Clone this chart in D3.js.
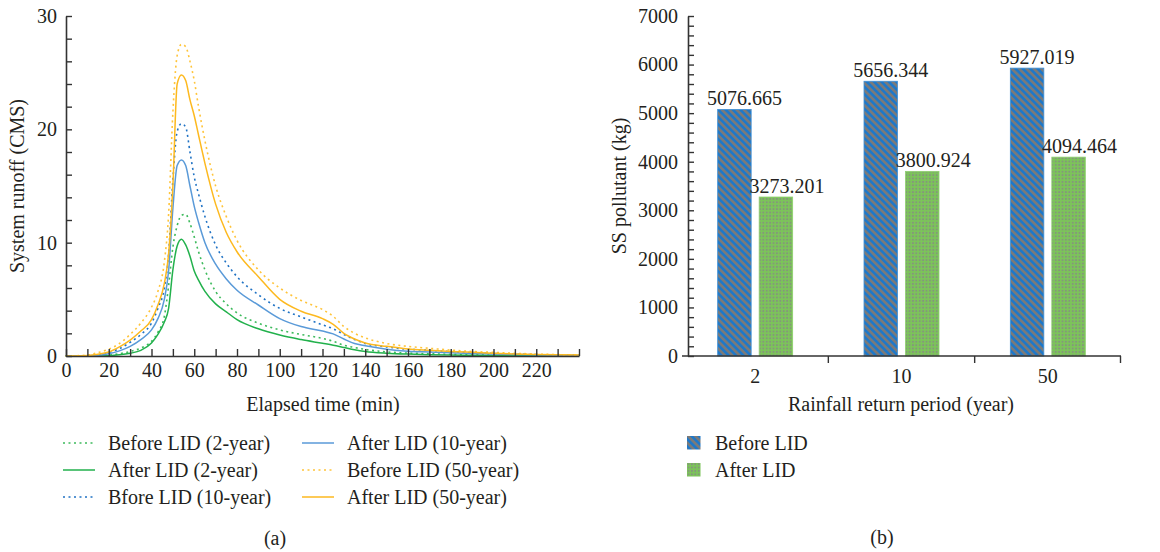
<!DOCTYPE html>
<html>
<head>
<meta charset="utf-8">
<script src="https://cdn.jsdelivr.net/npm/d3@7"></script>
<style>
  html, body { margin: 0; padding: 0; background: #fff; }
  svg { display: block; }
  text { font-family: "Liberation Serif", "DejaVu Serif", serif; fill: #231f20; }
</style>
</head>
<body>
<svg id="chart" width="1160" height="552"></svg>
<script>
// ---------- Data: panel (a) runoff hydrographs ----------
const times = [0,10,15,20,25,30,35,40,43,46,48,50,52,54,56,58,60,62,65,70,75,80,90,100,110,120,125,130,135,140,150,160,170,180,190,200,210,220,230,240];
const beforeLID2  = [0,0,0.02,0.08,0.2,0.4,0.7,1.3,2.1,3.5,6.2,9.6,11.5,12.4,12.5,11.7,10.5,9.2,7.6,5.7,4.6,3.8,2.9,2.3,1.9,1.55,1.3,0.95,0.75,0.58,0.36,0.26,0.2,0.15,0.12,0.1,0.08,0.06,0.05,0.04];
const afterLID2   = [0,0,0.01,0.03,0.1,0.24,0.5,1.15,1.9,3.0,4.2,7.6,9.7,10.3,9.8,8.8,7.5,6.7,5.7,4.6,3.9,3.2,2.4,1.85,1.45,1.12,0.95,0.75,0.55,0.4,0.25,0.17,0.12,0.09,0.07,0.05,0.04,0.03,0.02,0.02];
const beforeLID10 = [0,0.03,0.1,0.3,0.65,1.2,1.9,2.9,4.2,6.0,9.0,15.5,19.8,20.5,20.2,18.0,15.8,14.3,12.3,9.8,8.2,7.0,5.4,4.2,3.45,2.75,2.4,1.9,1.45,1.1,0.8,0.6,0.5,0.38,0.3,0.22,0.16,0.12,0.09,0.07];
const afterLID10  = [0,0.02,0.06,0.2,0.45,0.85,1.45,2.3,3.3,5.0,7.5,13.0,16.8,17.3,16.8,15.0,13.2,11.8,10.0,8.1,6.8,5.8,4.5,3.3,2.6,2.2,1.95,1.5,1.1,0.9,0.6,0.42,0.35,0.28,0.22,0.17,0.13,0.1,0.07,0.05];
const beforeLID50 = [0,0.08,0.3,0.6,1.1,1.9,2.9,4.3,5.7,8.3,12.5,21.5,26.5,27.5,27.3,26.0,24.3,22.0,19.0,15.0,12.3,10.2,7.6,6.0,4.9,4.1,3.5,2.6,2.0,1.6,1.1,0.85,0.68,0.52,0.4,0.32,0.24,0.17,0.12,0.1];
const afterLID50  = [0,0.05,0.15,0.35,0.8,1.4,2.2,3.2,4.5,6.4,9.0,15.0,24.0,24.8,24.3,22.6,21.2,19.5,17.0,13.4,10.9,9.2,7.0,5.0,3.95,3.3,2.8,2.0,1.5,1.15,0.85,0.62,0.5,0.4,0.32,0.25,0.18,0.13,0.1,0.08];

const lineSeriesNames = ["Before LID (2-year)","After LID (2-year)","Bfore LID (10-year)","After LID (10-year)","Before LID (50-year)","After LID (50-year)"];
const xTicksA = [0,20,40,60,80,100,120,140,160,180,200,220];
const yTicksA = [0,10,20,30];

// ---------- Data: panel (b) SS pollutant ----------
const periods = ["2","10","50"];
const beforeSS = [5076.665, 5656.344, 5927.019];
const afterSS  = [3273.201, 3800.924, 4094.464];
const barSeriesNames = ["Before LID","After LID"];
const yTicksB = [0,1000,2000,3000,4000,5000,6000,7000];

// ---------- Build ----------
const svg = d3.select("#chart");
const defs = svg.append("defs");

// Hatch pattern (Before LID)
const hatch = defs.append("pattern").attr("id","hatch").attr("patternUnits","userSpaceOnUse")
  .attr("width",5.2).attr("height",5.2).attr("patternTransform","rotate(-45)");
hatch.append("rect").attr("width",5.2).attr("height",5.2).attr("fill","#1f78c8");
hatch.append("rect").attr("width",2.6).attr("height",5.2).attr("fill","#7a7a7a");

// Dot pattern (After LID)
const dots = defs.append("pattern").attr("id","dots").attr("patternUnits","userSpaceOnUse")
  .attr("width",3.4).attr("height",3.4);
dots.append("rect").attr("width",3.4).attr("height",3.4).attr("fill","#7cc35a");
dots.append("rect").attr("x",1).attr("y",1).attr("width",1.4).attr("height",1.4).attr("fill","#8a7f8e");

const axisColor = "#333";
const fs = 20;

// ===== Panel (a) =====
const xA = d3.scaleLinear().domain([0,240]).range([66,579]);
const yA = d3.scaleLinear().domain([0,30]).range([356,16]);

const styles = [
  {data: beforeLID2,  color:"#3dba5c", dash:"2,3.5", w:1.6},
  {data: afterLID2,   color:"#22b14c", dash:null,    w:1.5},
  {data: beforeLID10, color:"#1f72c4", dash:"2,3.5", w:1.6},
  {data: afterLID10,  color:"#5a9ad8", dash:null,    w:1.5},
  {data: beforeLID50, color:"#ffc43a", dash:"2,3.5", w:1.6},
  {data: afterLID50,  color:"#fdb91f", dash:null,    w:1.5}
];

const gA = svg.append("g");
const line = d3.line().x((d,i)=>xA(times[i])).y(d=>yA(d)).curve(d3.curveMonotoneX);

styles.forEach(s => {
  gA.append("path").attr("d", line(s.data)).attr("fill","none")
    .attr("stroke", s.color).attr("stroke-width", s.w)
    .attr("stroke-dasharray", s.dash).attr("stroke-linecap", s.dash ? "butt" : "round");
});

// x axis (a)
const xAxisA = d3.axisBottom(xA).tickValues(d3.range(0,241,10)).tickSizeInner(-7).tickSizeOuter(0)
  .tickFormat(d => xTicksA.includes(d) ? d : "");
const gxA = gA.append("g").attr("transform","translate(0,356)").call(xAxisA);
gxA.select(".domain").attr("stroke",axisColor).attr("stroke-width",1.6);
gxA.selectAll(".tick line").attr("stroke",axisColor).attr("stroke-width",1.4);
gxA.selectAll(".tick text").attr("font-size",fs).attr("dy","0.55em").attr("y",10)
  .style("font-family","'Liberation Serif', serif").attr("fill","#231f20");

// y axis (a)
const yAxisA = d3.axisLeft(yA).tickValues(d3.range(0,31,2)).tickSizeInner(-6).tickSizeOuter(0)
  .tickFormat(d => yTicksA.includes(d) ? d : "");
const gyA = gA.append("g").attr("transform","translate(66,0)").call(yAxisA);
gyA.select(".domain").attr("stroke",axisColor).attr("stroke-width",1.6);
gyA.selectAll(".tick line").attr("stroke",axisColor).attr("stroke-width",1.4);
gyA.selectAll(".tick text").attr("font-size",fs).attr("x",-9)
  .style("font-family","'Liberation Serif', serif").attr("fill","#231f20");

gA.append("text").attr("x",323).attr("y",411).attr("text-anchor","middle").attr("font-size",fs).text("Elapsed time (min)");
gA.append("text").attr("transform","translate(24,186) rotate(-90)").attr("text-anchor","middle").attr("font-size",fs).text("System runoff (CMS)");

// legend (a)
const legA = gA.append("g");
const legPos = [[63,443],[63,470],[63,497],[302,443],[302,470],[302,497]];
styles.forEach((s,i) => {
  const [lx,ly] = legPos[i];
  legA.append("line").attr("x1",lx).attr("x2",lx+32).attr("y1",ly).attr("y2",ly)
    .attr("stroke",s.color).attr("stroke-width",s.w).attr("stroke-dasharray", s.dash);
  legA.append("text").attr("x",lx+45).attr("y",ly).attr("dy","0.33em").attr("font-size",fs).text(lineSeriesNames[i]);
});
gA.append("text").attr("x",275).attr("y",538).attr("dy","0.33em").attr("text-anchor","middle").attr("font-size",fs).text("(a)");

// ===== Panel (b) =====
const xB = d3.scaleBand().domain(periods).range([682,1121]);
const yB = d3.scaleLinear().domain([0,7000]).range([356,16]);
const gB = svg.append("g");
const barW = 33.5, gap = 4;

periods.forEach((p,i) => {
  const c = xB(p) + xB.bandwidth()/2;
  const xb = c - gap - barW, xa = c + gap;
  gB.append("rect").attr("x",xb).attr("y",yB(beforeSS[i])).attr("width",barW).attr("height",yB(0)-yB(beforeSS[i]))
    .attr("fill","url(#hatch)").attr("stroke","#3d8fd6").attr("stroke-width",0.8);
  gB.append("rect").attr("x",xa).attr("y",yB(afterSS[i])).attr("width",barW).attr("height",yB(0)-yB(afterSS[i]))
    .attr("fill","url(#dots)").attr("stroke","#8fd070").attr("stroke-width",0.8);
  gB.append("text").attr("x",xb+barW/2+10).attr("y",yB(beforeSS[i])-4).attr("text-anchor","middle").attr("font-size",fs)
    .text(beforeSS[i].toFixed(3));
  gB.append("text").attr("x",xa+barW/2+11).attr("y",yB(afterSS[i])-4).attr("text-anchor","middle").attr("font-size",fs)
    .text(afterSS[i].toFixed(3));
});

// x axis (b)
const gxB = gB.append("g").attr("transform","translate(0,356)");
gxB.append("line").attr("x1",682).attr("x2",1121).attr("y1",0).attr("y2",0).attr("stroke",axisColor).attr("stroke-width",1.6);
periods.forEach((p,i) => {
  if (i > 0) gxB.append("line").attr("x1",xB(p)).attr("x2",xB(p)).attr("y1",0).attr("y2",7).attr("stroke",axisColor).attr("stroke-width",1.4);
  gxB.append("text").attr("x",xB(p)+xB.bandwidth()/2).attr("y",20).attr("dy","0.33em").attr("text-anchor","middle").attr("font-size",fs).text(p);
});
gxB.append("line").attr("x1",1120.5).attr("x2",1120.5).attr("y1",0).attr("y2",7).attr("stroke",axisColor).attr("stroke-width",1.4);

// y axis (b)
const yAxisB = d3.axisLeft(yB).tickValues(d3.range(0,7001,200)).tickSizeInner(-6).tickSizeOuter(0)
  .tickFormat(d => yTicksB.includes(d) ? d : "");
const gyB = gB.append("g").attr("transform","translate(688,0)").call(yAxisB);
gyB.select(".domain").attr("stroke",axisColor).attr("stroke-width",1.6);
gyB.selectAll(".tick line").attr("stroke",axisColor).attr("stroke-width",1.4);
gyB.selectAll(".tick text").attr("font-size",fs).attr("x",-10)
  .style("font-family","'Liberation Serif', serif").attr("fill","#231f20");

gB.append("text").attr("x",901).attr("y",411).attr("text-anchor","middle").attr("font-size",fs).text("Rainfall return period (year)");
gB.append("text").attr("transform","translate(626,186) rotate(-90)").attr("text-anchor","middle").attr("font-size",fs).text("SS pollutant (kg)");

// legend (b)
const legB = gB.append("g");
["url(#hatch)","url(#dots)"].forEach((f,i) => {
  const ly = 443 + i*27;
  legB.append("rect").attr("x",687).attr("y",ly-7).attr("width",13.5).attr("height",13.5).attr("fill",f);
  legB.append("text").attr("x",715).attr("y",ly).attr("dy","0.33em").attr("font-size",fs).text(barSeriesNames[i]);
});
gB.append("text").attr("x",882).attr("y",537).attr("dy","0.33em").attr("text-anchor","middle").attr("font-size",fs).text("(b)");
</script>
</body>
</html>
